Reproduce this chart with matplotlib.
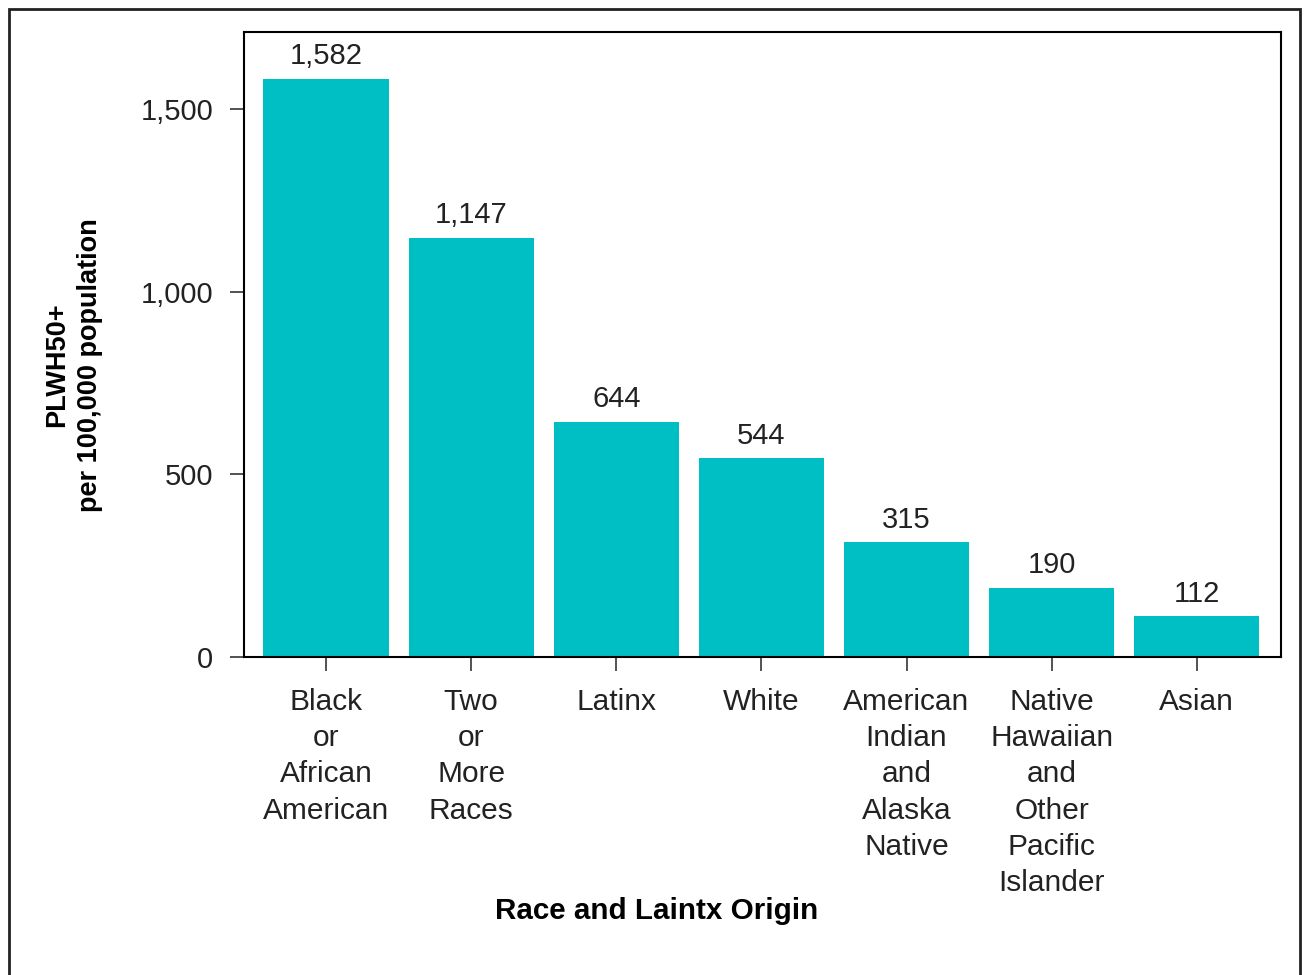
import matplotlib.pyplot as plt
from matplotlib.patches import Rectangle

categories = ["Black\nor\nAfrican\nAmerican", "Two\nor\nMore\nRaces", "Latinx", "White",
              "American\nIndian\nand\nAlaska\nNative",
              "Native\nHawaiian\nand\nOther\nPacific\nIslander", "Asian"]
values = [1582, 1147, 644, 544, 315, 190, 112]
yticks = [0, 500, 1000, 1500]

plt.rcParams['font.family'] = ['Liberation Sans', 'DejaVu Sans']

txt = '#222222'
fig = plt.figure(figsize=(13.04, 9.75), dpi=100)
ax = fig.add_axes([244/1304, 1-657/975, (1281-244)/1304, (657-32)/975])

x = range(len(values))
ax.bar(x, values, width=0.862, color='#00BFC4')
for i, v in zip(x, values):
    ax.annotate(f"{v:,}", (i, v), xytext=(0, 6), textcoords='offset points',
                ha='center', va='bottom', fontsize=21, color=txt)

ax.set_xlim(-0.565, 6.58)
ax.set_ylim(0, 1710)
ax.set_yticks(yticks)
ax.set_yticklabels([f"{t:,}" for t in yticks], fontsize=21, color=txt)
ax.set_xticks(list(x))
ax.set_xticklabels(categories, fontsize=21.5, color=txt, linespacing=1.38, va='top')
ax.tick_params(length=10, width=1.3, color='#444444', pad=12)
for s in ax.spines.values():
    s.set_linewidth(1.5)
    s.set_color('black')

fig.text(74/1304, 1-365/975, "PLWH50+\nper 100,000 population", rotation=90,
         ha='center', va='center', fontsize=19.5, fontweight='bold',
         color='black', linespacing=1.35)
fig.text(657/1304, 1-911/975, "Race and Laintx Origin", ha='center', va='center',
         fontsize=21.3, fontweight='bold', color='black')

fig.patches.append(Rectangle((9/1304, -0.05), (1300-9)/1304, 1.05-9/975, transform=fig.transFigure,
                             fill=False, edgecolor='#222222', linewidth=2))

fig.savefig('out.png', dpi=100)
